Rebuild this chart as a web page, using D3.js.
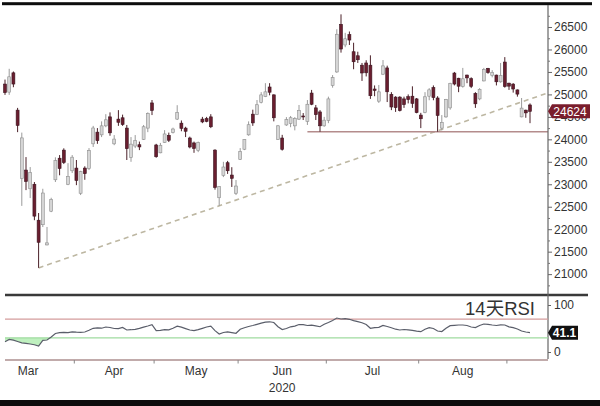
<!DOCTYPE html>
<html>
<head>
<meta charset="utf-8">
<script src="https://cdn.jsdelivr.net/npm/d3@7"></script>
<style>
  body { margin: 0; background: #fff; }
  svg { display: block; }
</style>
</head>
<body>
<svg id="chart" width="600" height="406"></svg>
<script>
// Hang Seng Index daily candles, 9 Mar - 8 Sep 2020
const dates = [
  "2020-03-09","2020-03-10","2020-03-11","2020-03-12","2020-03-13","2020-03-16","2020-03-17","2020-03-18","2020-03-19","2020-03-20","2020-03-23","2020-03-24","2020-03-25","2020-03-26","2020-03-27","2020-03-30","2020-03-31",
  "2020-04-01","2020-04-02","2020-04-03","2020-04-06","2020-04-07","2020-04-08","2020-04-09","2020-04-14","2020-04-15","2020-04-16","2020-04-17","2020-04-20","2020-04-21","2020-04-22","2020-04-23","2020-04-24","2020-04-27","2020-04-28","2020-04-29",
  "2020-05-04","2020-05-05","2020-05-06","2020-05-07","2020-05-08","2020-05-11","2020-05-12","2020-05-13","2020-05-14","2020-05-15","2020-05-18","2020-05-19","2020-05-20","2020-05-21","2020-05-22","2020-05-25","2020-05-26","2020-05-27","2020-05-28","2020-05-29",
  "2020-06-01","2020-06-02","2020-06-03","2020-06-04","2020-06-05","2020-06-08","2020-06-09","2020-06-10","2020-06-11","2020-06-12","2020-06-15","2020-06-16","2020-06-17","2020-06-18","2020-06-19","2020-06-22","2020-06-23","2020-06-24","2020-06-26","2020-06-29","2020-06-30",
  "2020-07-02","2020-07-03","2020-07-06","2020-07-07","2020-07-08","2020-07-09","2020-07-10","2020-07-13","2020-07-14","2020-07-15","2020-07-16","2020-07-17","2020-07-20","2020-07-21","2020-07-22","2020-07-23","2020-07-24","2020-07-27","2020-07-28","2020-07-29","2020-07-30","2020-07-31",
  "2020-08-03","2020-08-04","2020-08-05","2020-08-06","2020-08-07","2020-08-10","2020-08-11","2020-08-12","2020-08-13","2020-08-14","2020-08-17","2020-08-18","2020-08-19","2020-08-20","2020-08-21","2020-08-24","2020-08-25","2020-08-26","2020-08-27","2020-08-28","2020-08-31",
  "2020-09-01","2020-09-02","2020-09-03","2020-09-04","2020-09-07","2020-09-08"
];

const open = [
  25230,25050,25480,24650,23130,23316,22900,23000,22200,22100,21650,22400,23100,23580,23760,23000,23300,
  23360,22800,23360,23350,23900,24160,24100,24300,24500,23900,24450,24480,24250,23600,23850,23880,24000,24250,24810,
  23875,23700,23930,24090,24150,24450,24360,24250,24030,23920,23750,24450,24460,24500,23760,22700,23200,23480,23205,22800,
  23550,23780,24100,24560,24550,24820,24950,25165,24990,24000,24030,24320,24350,24300,24450,24520,24400,25030,24700,24610,24300,
  24420,25200,25500,26560,26100,26330,25950,25860,25650,25700,25650,25120,24850,25450,25590,25000,24940,24940,24900,24950,24960,24900,
  24540,24600,24960,25150,24920,24250,24500,24700,25475,25360,25180,25430,25350,25020,24900,25300,25580,25420,25430,25280,25720,
  25250,25230,25100,24500,24650,24765
];

const high = [
  25330,25570,25510,24700,24150,23605,23383,23050,22360,22900,22050,22700,23600,23650,23800,23470,23650,
  23540,23300,23400,23805,24300,24250,24400,24560,24600,24095,24650,24550,24320,24050,24095,23950,24320,24600,24875,
  23900,23920,24205,24150,24260,24760,24420,24280,24060,23950,23950,24500,24500,24560,23780,22960,23500,23520,23380,23094,
  23805,24000,24400,24660,24875,25050,25250,25250,25000,24320,24100,24495,24520,24495,24765,24585,24875,25100,24765,24650,24500,
  24950,25430,26450,26782,26370,26400,26150,25950,25700,25760,25870,25200,25210,25765,25640,25050,24960,24960,24950,25000,25180,24920,
  24590,25050,25140,25200,24960,24540,24900,25260,25500,25370,25590,25440,25380,25050,25140,25590,25590,25540,25440,25700,25830,
  25260,25250,25110,24920,24660,24800
];

const low = [
  24990,24990,25160,24160,22519,22870,22693,22200,21139,22048,21640,22380,23050,23200,23450,22980,23250,
  22980,22760,23100,23316,23830,23900,24050,24270,24080,23870,24300,24300,23540,23500,23805,23760,23985,24160,24540,
  23590,23690,23920,23940,24130,24430,24180,24050,23800,23700,23715,24360,24380,24250,22880,22520,23160,23230,22940,22760,
  23540,23760,24080,24300,24540,24800,24940,24980,24400,23985,23750,24300,24270,24200,24430,24430,24320,24760,24430,24170,24280,
  24360,25150,25480,25930,26050,26100,25560,25700,25300,25400,24900,24960,24810,25430,24830,24650,24610,24620,24700,24800,24700,24580,
  24250,24580,24870,24870,24170,24200,24480,24660,25200,25050,25150,25250,25140,24700,24870,25290,25460,25380,25200,25260,25150,
  25100,25040,24950,24490,24480,24360
];

const close = [
  25040,25392,25231,24309,24032,23063,23263,22291,21709,22805,21696,22663,23527,23352,23484,23175,23603,
  23085,23280,23236,23749,24253,23970,24300,24435,24145,24006,24380,24330,23793,23893,23977,23831,24280,24575,24644,
  23613,23868,24120,23980,24230,24600,24245,24180,23830,23797,23934,24388,24400,24280,22930,22952,23384,23301,23133,22961,
  23732,23995,24325,24366,24770,24990,25057,25049,24480,24301,23777,24440,24481,24465,24643,24511,24781,24781,24549,24301,24427,
  24900,25373,26339,26010,26239,26210,25727,25772,25477,25481,24971,25089,25057,25635,25058,24720,24705,24640,24772,24883,24800,24595,
  24458,24947,25102,24930,24531,24377,24890,25244,25231,25183,25347,25368,25178,24791,25113,25551,25486,25492,25281,25422,25177,
  25184,25120,25007,24695,24589,24624
];

// 14-day RSI
const rsi = [
  21.9,26.6,25.1,22.3,19.6,18.3,17.0,15.5,12.8,24.9,25.5,31.9,39.4,41.1,41.7,41.1,43.0,
  42.1,41.9,42.6,46.2,50.4,51.5,50.6,53.2,52.1,50.0,49.8,52.3,46.8,47.4,48.3,50.4,52.8,55.3,58.1,
  45.7,46.2,47.7,47.2,50.4,54.9,52.8,49.8,46.8,45.7,47.7,50.4,53.2,54.9,45.5,38.3,41.5,42.6,41.3,39.8,
  48.3,51.5,54.3,56.4,58.9,61.3,63.4,64.3,62.8,53.8,47.7,50.0,53.6,55.1,58.5,58.3,56.4,57.0,55.7,53.8,59.1,
  62.8,67.0,72.3,70.2,71.1,69.6,66.8,64.5,62.3,58.5,50.4,51.7,52.3,56.4,54.3,51.5,48.5,46.8,47.9,47.2,46.0,44.3,
  43.2,48.3,51.9,50.0,44.7,43.6,50.6,56.0,56.8,57.4,57.4,56.4,53.2,52.1,56.4,59.6,58.9,57.4,56.4,57.9,57.4,
  53.6,51.7,48.9,44.7,42.6,41.1
];

const priceTicks = [21000,21500,22000,22500,23000,23500,24000,24500,25000,25500,26000,26500];
const rsiTicks = [0, 100];
const rsiUpper = 70;
const rsiLower = 30;
const months = ["2020-03","2020-04","2020-05","2020-06","2020-07","2020-08","2020-09"];
const monthLabels = ["Mar","Apr","May","Jun","Jul","Aug"];
const yearLabel = { text: "2020", month: "Jun" };
const trendAnchors = [ { date: "2020-03-19", value: 21139 }, { date: "2020-05-25", value: 22520 } ];
const support = { from: "2020-06-23", value: 24170 };
const rsiTitle = "14天RSI";

const svg = d3.select("#chart");
const FONT = "'Liberation Sans', Arial, 'Noto Sans CJK SC', sans-serif";
const axisX = 548;

// scales
const x = d3.scaleBand().domain(dates).range([2.9, 532.1]).paddingInner(0.3).paddingOuter(0.15);
const bw = x.bandwidth();
const pos = i => x(dates[0]) + bw / 2 + i * x.step();
const cx = d => x(d) + bw / 2;
const yP = d3.scaleLinear().domain([20580, 26990]).range([293, 5]);
const yR = d3.scaleLinear().domain([0, 100]).range([352, 305]);

// frame bars
svg.append("rect").attr("x", 2).attr("y", 2.2).attr("width", 590).attr("height", 3).attr("fill", "#0d0d0d");
svg.append("rect").attr("x", 0).attr("y", 400).attr("width", 600).attr("height", 6).attr("fill", "#0d0d0d");
svg.append("line").attr("x1", 5).attr("x2", 588).attr("y1", 295).attr("y2", 295)
  .attr("stroke", "#3a3a3a").attr("stroke-width", 2.4);

// trend line through the March and May lows, extended to the axis
const i1 = dates.indexOf(trendAnchors[0].date), i2 = dates.indexOf(trendAnchors[1].date);
const perDay = (trendAnchors[1].value - trendAnchors[0].value) / (i2 - i1);
const iEnd = (axisX - pos(0)) / x.step();
const vEnd = trendAnchors[0].value + perDay * (iEnd - i1);
svg.append("line")
  .attr("x1", pos(i1)).attr("y1", yP(trendAnchors[0].value))
  .attr("x2", axisX).attr("y2", yP(vEnd))
  .attr("stroke", "#bdb7a2").attr("stroke-width", 1.6).attr("stroke-dasharray", "5,4");

// support level
svg.append("line")
  .attr("x1", cx(support.from)).attr("x2", axisX)
  .attr("y1", yP(support.value)).attr("y2", yP(support.value))
  .attr("stroke", "#b48c8c").attr("stroke-width", 1.6);

// candles
const candles = dates.map((d, i) => ({ d, o: open[i], h: high[i], l: low[i], c: close[i] }));
const g = svg.append("g");
const upFill = "#d6d6d6", upStroke = "#8d8d8d", dnFill = "#6a1e2f", dnStroke = "#3b1520";
g.selectAll("line.wick").data(candles).join("line")
  .attr("x1", k => cx(k.d)).attr("x2", k => cx(k.d))
  .attr("y1", k => yP(k.h)).attr("y2", k => yP(k.l))
  .attr("stroke", k => k.c >= k.o ? "#9a9a9a" : "#4a2028").attr("stroke-width", 1);
g.selectAll("rect.body").data(candles).join("rect")
  .attr("x", k => x(k.d)).attr("width", bw)
  .attr("y", k => yP(Math.max(k.o, k.c)))
  .attr("height", k => Math.max(1, Math.abs(yP(k.o) - yP(k.c))))
  .attr("fill", k => k.c >= k.o ? upFill : dnFill)
  .attr("stroke", k => k.c >= k.o ? upStroke : dnStroke).attr("stroke-width", 0.6);

// right axis line
svg.append("line").attr("x1", axisX).attr("x2", axisX).attr("y1", 5).attr("y2", 359)
  .attr("stroke", "#666").attr("stroke-width", 1.2);

// price axis
const minor = d3.range(20750, 26990, 250).filter(v => v % 500 !== 0);
svg.append("g").attr("transform", `translate(${axisX},0)`)
  .call(d3.axisRight(yP).tickValues(minor).tickSize(2).tickFormat(""))
  .call(a => a.select(".domain").remove())
  .call(a => a.selectAll("line").attr("stroke", "#777"));
const pAxis = svg.append("g").attr("transform", `translate(${axisX},0)`)
  .call(d3.axisRight(yP).tickValues(priceTicks).tickSize(4).tickPadding(2).tickFormat(d3.format("d")));
pAxis.select(".domain").remove();
pAxis.selectAll("line").attr("stroke", "#666");
pAxis.selectAll("text").attr("font-family", FONT).attr("font-size", 12).attr("fill", "#333");

// last price tag
const lastClose = close[close.length - 1];
const ty = yP(lastClose);
svg.append("path")
  .attr("d", `M${axisX},${ty} L${axisX + 4},${ty - 7} H590 V${ty + 7} H${axisX + 4} Z`)
  .attr("fill", "#7a1d2c");
svg.append("text").attr("x", 570).attr("y", ty).attr("dy", "0.36em")
  .attr("text-anchor", "middle").attr("font-family", FONT).attr("font-size", 12)
  .attr("fill", "#fff").text(d3.format("d")(lastClose));

// RSI panel
const rsiArea = d3.area().x((v, i) => pos(i)).y0(yR(rsiLower)).y1(v => yR(Math.min(v, rsiLower)));
svg.append("path").datum(rsi).attr("d", rsiArea).attr("fill", "#bff0bf");
svg.append("line").attr("x1", 5).attr("x2", axisX).attr("y1", yR(rsiUpper)).attr("y2", yR(rsiUpper))
  .attr("stroke", "#d49c9c").attr("stroke-width", 1.3);
svg.append("line").attr("x1", 5).attr("x2", axisX).attr("y1", yR(rsiLower)).attr("y2", yR(rsiLower))
  .attr("stroke", "#9fdb9f").attr("stroke-width", 1.3);
svg.append("path").datum(rsi)
  .attr("d", d3.line().x((v, i) => pos(i)).y(v => yR(v)))
  .attr("fill", "none").attr("stroke", "#5a5e6a").attr("stroke-width", 1.2);

const rAxis = svg.append("g").attr("transform", `translate(${axisX},0)`)
  .call(d3.axisRight(yR).tickValues(rsiTicks).tickSize(3).tickPadding(3));
rAxis.select(".domain").remove();
rAxis.selectAll("line").attr("stroke", "#666");
rAxis.selectAll("text").attr("font-family", FONT).attr("font-size", 12).attr("fill", "#333");

// last RSI tag
const lastRsi = rsi[rsi.length - 1];
const ry = yR(lastRsi);
svg.append("path")
  .attr("d", `M${axisX},${ry} L${axisX + 4},${ry - 7} H578 V${ry + 7} H${axisX + 4} Z`)
  .attr("fill", "#111");
svg.append("text").attr("x", 564.5).attr("y", ry).attr("dy", "0.36em")
  .attr("text-anchor", "middle").attr("font-family", FONT).attr("font-size", 12).attr("font-weight", "bold")
  .attr("fill", "#fff").text(d3.format(".1f")(lastRsi));

svg.append("text").attr("x", 535).attr("y", 315).attr("text-anchor", "end")
  .attr("font-family", FONT).attr("font-size", 18.5).attr("fill", "#333").text(rsiTitle);

// time axis
svg.append("line").attr("x1", 5).attr("x2", axisX).attr("y1", 360).attr("y2", 360)
  .attr("stroke", "#ad8f8f").attr("stroke-width", 1.4);

function weekdaysBetween(a, b) {
  let n = 0;
  for (let d = new Date(a); d < b; d.setDate(d.getDate() + 1)) if (d.getDay() % 6 !== 0) n++;
  return n;
}
const first = new Date(dates[0] + "T00:00:00");
const boundary = months.map(m => {
  const start = new Date(m + "-01T00:00:00");
  const idx = start < first ? -weekdaysBetween(start, first) : dates.findIndex(d => d >= m + "-01");
  return pos(idx - 0.5);
});
svg.append("g").selectAll("line").data(boundary.filter(b => b > 5 && b < axisX)).join("line")
  .attr("x1", b => b).attr("x2", b => b).attr("y1", 360).attr("y2", 363.5)
  .attr("stroke", "#888").attr("stroke-width", 1);
const labelX = monthLabels.map((t, i) => (boundary[i] + boundary[i + 1]) / 2);
svg.append("g").selectAll("text").data(monthLabels).join("text")
  .attr("x", (t, i) => labelX[i]).attr("y", 375).attr("text-anchor", "middle")
  .attr("font-family", FONT).attr("font-size", 12).attr("fill", "#333").text(t => t);
svg.append("text").attr("x", labelX[monthLabels.indexOf(yearLabel.month)]).attr("y", 392)
  .attr("text-anchor", "middle").attr("font-family", FONT).attr("font-size", 12).attr("fill", "#333")
  .text(yearLabel.text);
</script>
</body>
</html>
